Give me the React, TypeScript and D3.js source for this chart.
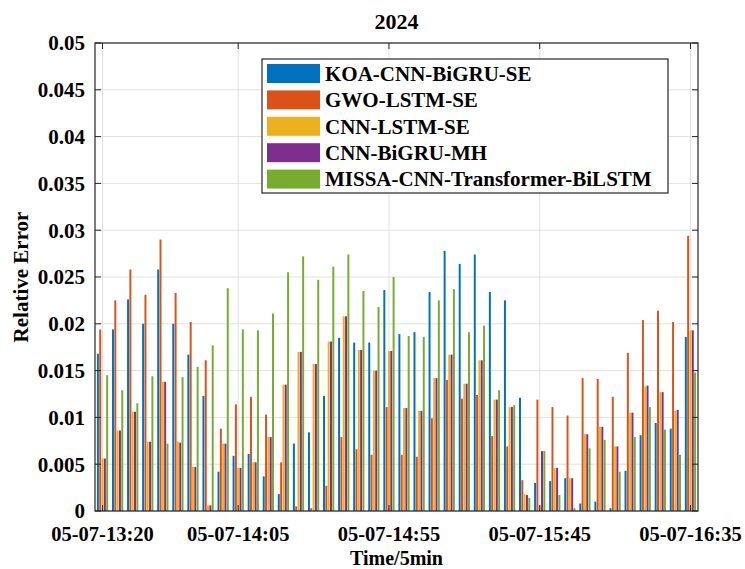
import React from "react";
import * as d3 from "d3";

const times = [
  "05-07-13:20", "05-07-13:25", "05-07-13:30", "05-07-13:35", "05-07-13:40",
  "05-07-13:45", "05-07-13:50", "05-07-13:55", "05-07-14:00", "05-07-14:05",
  "05-07-14:10", "05-07-14:15", "05-07-14:20", "05-07-14:25", "05-07-14:30",
  "05-07-14:35", "05-07-14:40", "05-07-14:45", "05-07-14:50", "05-07-14:55",
  "05-07-15:00", "05-07-15:05", "05-07-15:10", "05-07-15:15", "05-07-15:20",
  "05-07-15:25", "05-07-15:30", "05-07-15:35", "05-07-15:40", "05-07-15:45",
  "05-07-15:50", "05-07-15:55", "05-07-16:00", "05-07-16:05", "05-07-16:10",
  "05-07-16:15", "05-07-16:20", "05-07-16:25", "05-07-16:30", "05-07-16:35",
];

const xTickLabels = ["05-07-13:20", "05-07-14:05", "05-07-14:55", "05-07-15:45", "05-07-16:35"];
const yTicks = [0, 0.005, 0.01, 0.015, 0.02, 0.025, 0.03, 0.035, 0.04, 0.045, 0.05];

const seriesNames = [
  "KOA-CNN-BiGRU-SE",
  "GWO-LSTM-SE",
  "CNN-LSTM-SE",
  "CNN-BiGRU-MH",
  "MISSA-CNN-Transformer-BiLSTM",
];
const seriesColors = ["#0072BD", "#D95319", "#EDB120", "#7E2F8E", "#77AC30"];

const koaCnnBigruSe = [
  0.0168, 0.0194, 0.0226, 0.0200, 0.0258, 0.0200, 0.0167, 0.0123, 0.0042, 0.0059,
  0.0061, 0.0037, 0.0018, 0.0072, 0.0084, 0.0123, 0.0185, 0.0180, 0.0180, 0.0236,
  0.0189, 0.0191, 0.0234, 0.0278, 0.0264, 0.0274, 0.0234, 0.0225, 0.0121, 0.0030,
  0.0032, 0.0035, 0.0008, 0.0010, 0.0003, 0.0043, 0.0081, 0.0094, 0.0088, 0.0186,
];
const gwoLstmSe = [
  0.0194, 0.0225, 0.0258, 0.0231, 0.0290, 0.0233, 0.0202, 0.0161, 0.0088, 0.0114,
  0.0122, 0.0103, 0.0052, 0.0005, 0.0003, 0.0027, 0.0079, 0.0066, 0.0060, 0.0111,
  0.0060, 0.0058, 0.0099, 0.0140, 0.0120, 0.0124, 0.0080, 0.0069, 0.0033, 0.0119,
  0.0111, 0.0102, 0.0142, 0.0141, 0.0122, 0.0169, 0.0204, 0.0214, 0.0202, 0.0294,
];
const cnnLstmSe = [
  0.0056, 0.0086, 0.0106, 0.0074, 0.0138, 0.0074, 0.0047, 0.0006, 0.0072, 0.0046,
  0.0052, 0.0079, 0.0135, 0.0170, 0.0157, 0.0181, 0.0208, 0.0172, 0.0150, 0.0171,
  0.0110, 0.0107, 0.0142, 0.0167, 0.0136, 0.0161, 0.0119, 0.0111, 0.0018, 0.0006,
  0.0046, 0.0035, 0.0082, 0.0090, 0.0069, 0.0105, 0.0133, 0.0127, 0.0107, 0.0193,
];
const cnnBigruMh = [
  0.0056, 0.0086, 0.0106, 0.0074, 0.0138, 0.0073, 0.0047, 0.0006, 0.0072, 0.0046,
  0.0052, 0.0079, 0.0135, 0.0170, 0.0157, 0.0181, 0.0208, 0.0172, 0.0150, 0.0171,
  0.0110, 0.0107, 0.0142, 0.0167, 0.0136, 0.0161, 0.0119, 0.0111, 0.0017, 0.0064,
  0.0046, 0.0035, 0.0082, 0.0090, 0.0069, 0.0105, 0.0134, 0.0127, 0.0108, 0.0193,
];
const missaCnnTransformerBilstm = [
  0.0145, 0.0129, 0.0115, 0.0144, 0.0072, 0.0143, 0.0154, 0.0177, 0.0238, 0.0194,
  0.0193, 0.0211, 0.0255, 0.0272, 0.0247, 0.0261, 0.0274, 0.0235, 0.0218, 0.0250,
  0.0187, 0.0186, 0.0225, 0.0237, 0.0191, 0.0198, 0.0129, 0.0113, 0.0014, 0.0064,
  0.0017, 0.0003, 0.0067, 0.0076, 0.0042, 0.0079, 0.0111, 0.0087, 0.0060, 0.0148,
];

const seriesValues = [koaCnnBigruSe, gwoLstmSe, cnnLstmSe, cnnBigruMh, missaCnnTransformerBilstm];

const W = 745;
const H = 569;
const M = { left: 95, right: 698, top: 43, bottom: 511 };
const FONT = "'Liberation Serif', 'Times New Roman', serif";
const AXIS = "#262626";
const GRID = "#e1e1e1";

export default function App() {
  const n = times.length;
  const nb = seriesValues.length;
  const x = d3.scaleLinear().domain([-0.5, n - 0.5]).range([M.left, M.right]);
  const y = d3.scaleLinear().domain([0, 0.05]).range([M.bottom, M.top]);

  const groupWidth = Math.min(0.8, nb / (nb + 1.5));
  const slot = groupWidth / nb;
  const barW = slot * 0.85;

  const xTickIdx = xTickLabels.map((l) => times.indexOf(l));
  const fmt = (v: number) => String(+v.toFixed(3));
  const tickLen = 6;

  const legX = 262;
  const legY = 59;
  const legW = 406;
  const legH = 134;
  const rowH = 26.4;

  return (
    <div style={{ position: "absolute", left: 0, top: 0 }}>
      <svg width={W} height={H} style={{ display: "block", background: "#fff" }} fontFamily={FONT}>
        <rect x={0} y={0} width={W} height={H} fill="#fff" />
        {/* grid */}
        {yTicks.map((t) => (
          <line key={"gy" + t} x1={M.left} x2={M.right} y1={y(t)} y2={y(t)} stroke={GRID} strokeWidth={1} />
        ))}
        {xTickIdx.map((i) => (
          <line key={"gx" + i} x1={x(i)} x2={x(i)} y1={M.top} y2={M.bottom} stroke={GRID} strokeWidth={1} />
        ))}
        {/* bars */}
        {seriesValues.map((vals, j) => (
          <g key={"s" + j} fill={seriesColors[j]}>
            {vals.map((v, i) => {
              const cx = x(i - groupWidth / 2 + slot / 2 + j * slot);
              const w = x(barW) - x(0);
              return <rect key={i} x={cx - w / 2} y={y(v)} width={w} height={y(0) - y(v)} />;
            })}
          </g>
        ))}
        {/* axes box */}
        <rect x={M.left} y={M.top} width={M.right - M.left} height={M.bottom - M.top} fill="none" stroke={AXIS} strokeWidth={1.2} />
        {/* ticks */}
        {yTicks.map((t) => (
          <g key={"ty" + t}>
            <line x1={M.left} x2={M.left + tickLen} y1={y(t)} y2={y(t)} stroke={AXIS} />
            <line x1={M.right} x2={M.right - tickLen} y1={y(t)} y2={y(t)} stroke={AXIS} />
            <text x={85} y={y(t)} dy="0.35em" textAnchor="end" fontSize={21} fontWeight="bold" fill="#000">
              {fmt(t)}
            </text>
          </g>
        ))}
        {xTickIdx.map((i, k) => (
          <g key={"tx" + i}>
            <line x1={x(i)} x2={x(i)} y1={M.bottom} y2={M.bottom - tickLen} stroke={AXIS} />
            <line x1={x(i)} x2={x(i)} y1={M.top} y2={M.top + tickLen} stroke={AXIS} />
            <text x={x(i)} y={541} textAnchor="middle" fontSize={20.5} fontWeight="bold" fill="#000">
              {xTickLabels[k]}
            </text>
          </g>
        ))}
        {/* labels */}
        <text x={(M.left + M.right) / 2} y={29} textAnchor="middle" fontSize={22} fontWeight="bold" fill="#000">
          2024
        </text>
        <text x={(M.left + M.right) / 2} y={564.5} textAnchor="middle" fontSize={20} fontWeight="bold" fill="#000">
          Time/5min
        </text>
        <text
          transform={`translate(28,${(M.top + M.bottom) / 2}) rotate(-90)`}
          textAnchor="middle"
          fontSize={21}
          fontWeight="bold"
          fill="#000"
        >
          Relative Error
        </text>
        {/* legend */}
        <g>
          <rect x={legX} y={legY} width={legW} height={legH} fill="#fff" stroke={AXIS} strokeWidth={1.2} />
          {seriesNames.map((name, j) => {
            const cy = legY + 14.5 + j * rowH;
            return (
              <g key={"l" + j}>
                <rect x={267} y={cy - 9.5} width={53} height={19} fill={seriesColors[j]} />
                <text x={325} y={cy} dy="0.35em" fontSize={21} fontWeight="bold" fill="#000">
                  {name}
                </text>
              </g>
            );
          })}
        </g>
      </svg>
    </div>
  );
}
